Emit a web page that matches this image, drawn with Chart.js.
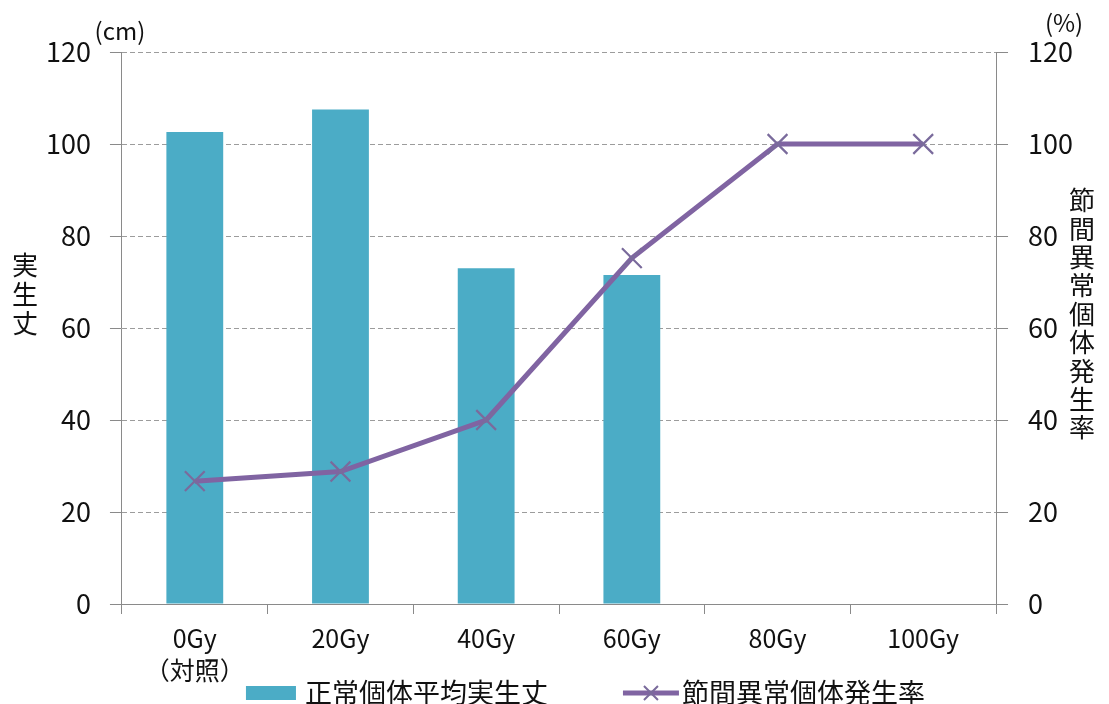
<!DOCTYPE html>
<html lang="ja">
<head>
<meta charset="utf-8">
<title>実生丈と節間異常個体発生率</title>
<script src="https://cdn.jsdelivr.net/npm/chart.js@4.4.1/dist/chart.umd.min.js"></script>
<style>
  html, body { margin: 0; padding: 0; background: #ffffff; }
  #wrap { width: 1109px; height: 704px; position: relative; }
</style>
</head>
<body>
<div id="wrap"><canvas id="chart" width="1109" height="704"></canvas></div>
<script>
// Irradiation dose groups (first one is the untreated control)
const doseLabels = [['0Gy', '（対照）'], '20Gy', '40Gy', '60Gy', '80Gy', '100Gy'];
// Mean seedling height of normal plants (cm); no normal plants at 80/100Gy
const seedlingHeight = [102.6, 107.5, 73.0, 71.5, null, null];
// Rate of plants with abnormal internodes (%)
const abnormalRate = [26.7, 28.8, 40, 75.2, 100, 100];
// Shared tick values for both vertical axes
const axisTicks = [0, 20, 40, 60, 80, 100, 120];

const barName = '正常個体平均実生丈';
const lineName = '節間異常個体発生率';
const leftTitle = '実生丈';
const rightTitle = '節間異常個体発生率';
const leftUnit = '(cm)';
const rightUnit = '(%)';

const BAR_COLOR = '#4bacc6';
const LINE_COLOR = '#8064a2';
const MARK_COLOR = '#7a6b9c';
const AXIS_COLOR = '#8a8a8a';
const GRID_COLOR = '#9c9c9c';
const TEXT_COLOR = '#111111';
const FONT = '"Noto Sans CJK JP", "Noto Sans", sans-serif';

// Unit captions, vertical axis titles and the legend drawn on the canvas
const annotations = {
  id: 'annotations',
  afterDraw(chart) {
    const ctx = chart.ctx;
    const area = chart.chartArea;
    const yl = chart.scales.y;
    const yr = chart.scales.y1;
    ctx.save();
    ctx.fillStyle = TEXT_COLOR;
    ctx.textAlign = 'center';
    ctx.textBaseline = 'middle';

    ctx.font = '24px ' + FONT;
    ctx.fillText(leftUnit, yl.right - 2, area.top - 21);
    ctx.fillText(rightUnit, yr.left + 68, area.top - 29);

    // stacked (upright) vertical titles
    ctx.font = '26px ' + FONT;
    const midL = (area.top + area.bottom) / 2;
    const pitchL = 29;
    [...leftTitle].forEach((ch, i) => {
      ctx.fillText(ch, 25, midL - 34 + (i - (leftTitle.length - 1) / 2) * pitchL);
    });
    const pitchR = 28.4;
    [...rightTitle].forEach((ch, i) => {
      ctx.fillText(ch, yr.left + 86, midL - 14 + (i - (rightTitle.length - 1) / 2) * pitchR);
    });

    // legend
    const ly = chart.height - 11;
    ctx.font = '27px ' + FONT;
    ctx.textAlign = 'left';
    const bx = area.left + 124;
    ctx.fillStyle = BAR_COLOR;
    ctx.fillRect(bx, ly - 7, 50, 14);
    ctx.fillStyle = TEXT_COLOR;
    ctx.fillText(barName, bx + 59, ly);

    const lx = area.left + 501;
    ctx.strokeStyle = LINE_COLOR;
    ctx.lineWidth = 5;
    ctx.beginPath();
    ctx.moveTo(lx, ly);
    ctx.lineTo(lx + 56, ly);
    ctx.stroke();
    ctx.strokeStyle = MARK_COLOR;
    ctx.lineWidth = 2;
    const cx = lx + 28, r = 7;
    ctx.beginPath();
    ctx.moveTo(cx - r, ly - r); ctx.lineTo(cx + r, ly + r);
    ctx.moveTo(cx - r, ly + r); ctx.lineTo(cx + r, ly - r);
    ctx.stroke();
    ctx.fillStyle = TEXT_COLOR;
    ctx.fillText(lineName, lx + 59, ly);
    ctx.restore();
  }
};

Chart.defaults.font.family = FONT;
Chart.defaults.color = TEXT_COLOR;

new Chart(document.getElementById('chart'), {
  type: 'bar',
  data: {
    labels: doseLabels,
    datasets: [
      {
        type: 'line',
        label: lineName,
        data: abnormalRate,
        yAxisID: 'y1',
        borderColor: LINE_COLOR,
        borderWidth: 5,
        tension: 0,
        fill: false,
        pointStyle: 'crossRot',
        pointRadius: 14,
        pointBorderWidth: 2.2,
        pointBorderColor: MARK_COLOR,
        pointBackgroundColor: MARK_COLOR,
        order: 1
      },
      {
        type: 'bar',
        label: barName,
        data: seedlingHeight,
        yAxisID: 'y',
        backgroundColor: BAR_COLOR,
        borderWidth: 0,
        categoryPercentage: 1,
        barPercentage: 0.39,
        order: 2
      }
    ]
  },
  options: {
    responsive: false,
    animation: false,
    layout: { padding: { top: 52, left: 27, right: 16, bottom: 10 } },
    plugins: {
      legend: { display: false },
      tooltip: { enabled: false }
    },
    scales: {
      x: {
        offset: true,
        grid: {
          display: true,
          offset: true,
          drawOnChartArea: false,
          drawTicks: true,
          tickLength: 10,
          tickColor: AXIS_COLOR,
          color: AXIS_COLOR
        },
        border: { display: true, color: AXIS_COLOR, width: 1 },
        ticks: {
          font: { size: 25, lineHeight: '32px' },
          color: TEXT_COLOR,
          padding: 8,
          maxRotation: 0,
          autoSkip: false
        }
      },
      y: {
        position: 'left',
        min: 0,
        max: 120,
        afterBuildTicks(scale) { scale.ticks = axisTicks.map(v => ({ value: v })); },
        grid: {
          color: GRID_COLOR,
          lineWidth: 1,
          drawTicks: true,
          tickLength: 12,
          tickColor: AXIS_COLOR,
          tickBorderDash: []
        },
        border: { display: true, color: AXIS_COLOR, width: 1, dash: [5, 3] },
        ticks: {
          font: { size: 27 },
          color: TEXT_COLOR,
          padding: 19
        }
      },
      y1: {
        position: 'right',
        min: 0,
        max: 120,
        afterBuildTicks(scale) { scale.ticks = axisTicks.map(v => ({ value: v })); },
        grid: {
          drawOnChartArea: false,
          drawTicks: true,
          tickLength: 12,
          tickColor: AXIS_COLOR,
          color: AXIS_COLOR
        },
        border: { display: true, color: AXIS_COLOR, width: 1 },
        ticks: {
          font: { size: 27 },
          color: TEXT_COLOR,
          padding: 20
        }
      }
    }
  },
  plugins: [annotations]
});
</script>
</body>
</html>
